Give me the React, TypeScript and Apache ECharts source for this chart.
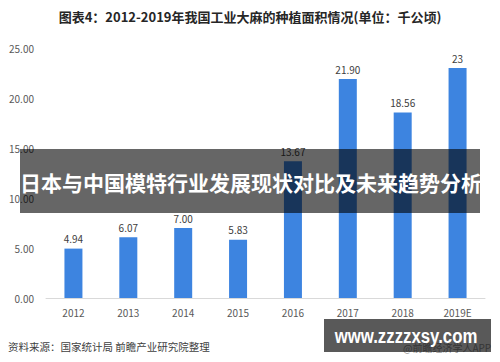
import React, { useEffect, useRef } from 'react';
import * as echarts from 'echarts';

const categories = ['2012', '2013', '2014', '2015', '2016', '2017', '2018', '2019E'];
const values = [4.94, 6.07, 7.0, 5.83, 13.67, 21.9, 18.56, 23];
const valueLabels = ['4.94', '6.07', '7.00', '5.83', '13.67', '21.90', '18.56', '23'];
const yMin = 0;
const yMax = 25;
const yInterval = 5;

const titleText = '图表4：2012-2019年我国工业大麻的种植面积情况(单位：千公顷)';
const bannerText = '日本与中国模特行业发展现状对比及未来趋势分析';
const sourceText = '资料来源：国家统计局 前瞻产业研究院整理';
const siteText = 'www.zzzzxsy.com';
const appText = '@前瞻经济学人APP';

const FONT = '"Noto Sans CJK SC", "Noto Sans", sans-serif';

export default function App() {
  const ref = useRef<HTMLDivElement>(null);

  useEffect(() => {
    if (!ref.current) return;
    const chart = echarts.init(ref.current, undefined, { renderer: 'svg' });
    chart.setOption({
      animation: false,
      backgroundColor: '#ffffff',
      textStyle: { fontFamily: FONT },
      grid: { left: 46, right: 15, top: 48, bottom: 64, containLabel: false },
      xAxis: {
        type: 'category',
        data: categories,
        axisLine: { show: true, lineStyle: { color: '#d9d9d9', width: 1 } },
        axisTick: { show: false },
        axisLabel: { color: '#595959', fontSize: 10, margin: 9, fontFamily: FONT },
      },
      yAxis: {
        type: 'value',
        min: yMin,
        max: yMax,
        interval: yInterval,
        axisLine: { show: false },
        axisTick: { show: false },
        splitLine: { show: false },
        axisLabel: {
          color: '#595959',
          fontSize: 10,
          margin: 12,
          fontFamily: FONT,
          formatter: (v: number) => v.toFixed(2),
        },
      },
      series: [
        {
          type: 'bar',
          data: values,
          barWidth: 18,
          itemStyle: { color: '#3d84e0' },
          label: {
            show: true,
            position: 'top',
            distance: 5,
            color: '#404040',
            fontSize: 10,
            fontFamily: FONT,
            formatter: (p: any) => valueLabels[p.dataIndex],
          },
        },
      ],
      graphic: [
        {
          type: 'text',
          x: 250,
          y: 16,
          z: 50,
          style: {
            text: titleText,
            fontSize: 13,
            fontWeight: 'bold',
            fontFamily: FONT,
            fill: '#262626',
            align: 'center',
            verticalAlign: 'middle',
          },
        },
        {
          type: 'text',
          x: 8,
          y: 346,
          z: 50,
          style: {
            text: sourceText,
            fontSize: 10.5,
            fontFamily: FONT,
            fill: '#404040',
            align: 'left',
            verticalAlign: 'middle',
          },
        },
        {
          type: 'text',
          x: 403,
          y: 347,
          z: 50,
          style: {
            text: appText,
            fontSize: 10,
            fontFamily: FONT,
            fill: '#9a9a9a',
            align: 'left',
            verticalAlign: 'middle',
          },
        },
        {
          type: 'rect',
          z: 100,
          shape: { x: 20, y: 149, width: 460, height: 64 },
          style: { fill: 'rgba(0,0,0,0.6)' },
        },
        {
          type: 'text',
          x: 251,
          y: 182,
          z: 101,
          style: {
            text: bannerText,
            fontSize: 21,
            fontWeight: 'bold',
            fontFamily: FONT,
            fill: '#ffffff',
            align: 'center',
            verticalAlign: 'middle',
          },
        },
        {
          type: 'rect',
          z: 100,
          shape: { x: 324, y: 319, width: 167, height: 33 },
          style: { fill: 'rgba(0,0,0,0.65)' },
        },
        {
          type: 'text',
          x: 406,
          y: 336,
          z: 101,
          scaleX: 0.8,
          style: {
            text: siteText,
            fontSize: 21,
            fontWeight: 'bold',
            fontFamily: '"Liberation Sans", Arial, sans-serif',
            fill: '#ffffff',
            align: 'center',
            verticalAlign: 'middle',
          },
        },
      ],
    });
    return () => chart.dispose();
  }, []);

  return (
    <div
      ref={ref}
      style={{ position: 'fixed', left: 0, top: 0, width: 500, height: 362, background: '#fff' }}
    />
  );
}
